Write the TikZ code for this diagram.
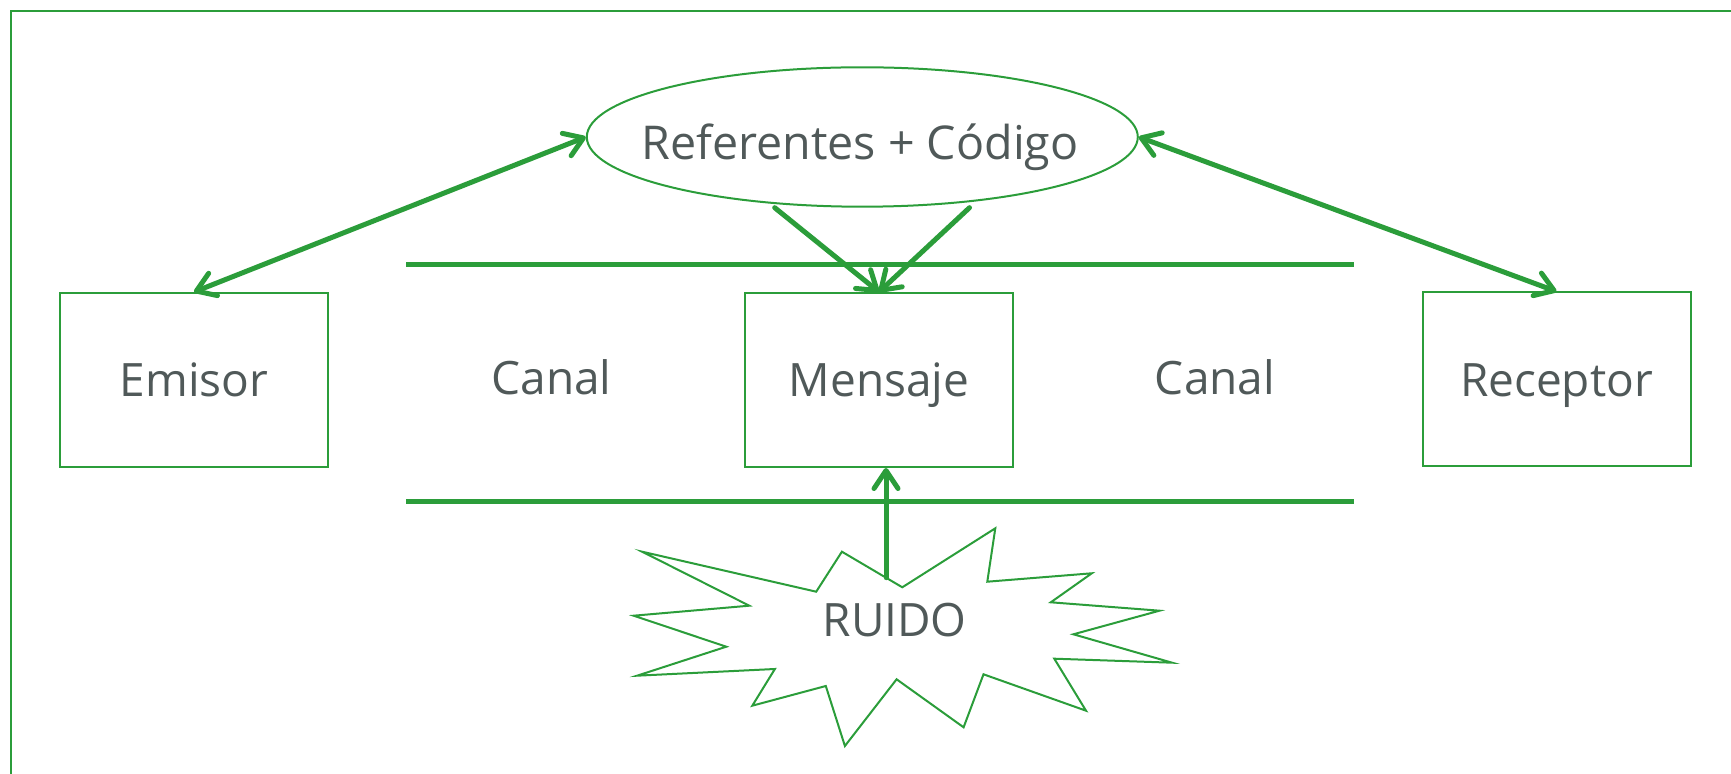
\documentclass[tikz,border=0pt]{standalone}
\usepackage{fontspec}
\setmainfont{Open Sans}
\usetikzlibrary{arrows.meta,shapes.geometric,calc}
\definecolor{gr}{RGB}{43,157,58}
\definecolor{tx}{RGB}{80,89,89}
\begin{document}
\begin{tikzpicture}[x=0.5pt,y=-0.5pt,
  thinline/.style={draw=gr, line width=1pt},
  lbl/.style={font=\fontsize{23}{27}\selectfont, text=tx},
  box/.style={thinline, lbl, minimum width=134pt, minimum height=87pt, inner sep=0pt, text height=16.7pt, text depth=0pt},
  chan/.style={draw=gr, line width=2.4pt},
  conn/.style={draw=gr, line width=2.5pt, line cap=round},
  tip/.tip={Straight Barb[length=9pt,width=12pt,round]}
]
\useasboundingbox (0,0) rectangle (1731,774);
% frame
\draw[thinline] (11,774) -- (11,11) -- (1731,11);
% channel lines
\draw[chan] (406,264.5) -- (1354,264.5);
\draw[chan] (406,501.5) -- (1354,501.5);
% nodes
\node[thinline, ellipse, minimum width=275.5pt, minimum height=69.7pt, inner sep=0pt] (ell) at (862.3,137) {};
\node[lbl, font=\fontsize{23.3}{27}\selectfont, anchor=base] (elltxt) at (860,160) {Referentes + Código};
\node[box] (emi) at (194,380) {Emisor};
\node[box] (msg) at (879,380) {Mensaje};
\node[box] (rec) at (1556.5,379.5) {Receptor};
\node[lbl, anchor=base] (can1) at (551.5,395) {Canal};
\node[lbl, anchor=base] (can2) at (1215,395) {Canal};
% starburst
\draw[thinline, line join=miter] (642.1,551.7) -- (816.2,591.7) -- (841.9,551.7) -- (902.3,587.3) -- (995.3,528.3) -- (987.3,581.7) -- (1091.8,573.3) -- (1050.8,602.3) -- (1159.5,610.7) -- (1073.4,634.3) -- (1172.1,662.7) -- (1054.3,658.7) -- (1086,710.7) -- (983.5,674.3) -- (963.6,727.3) -- (896.6,679.3) -- (844.9,746) -- (825.8,686) -- (752.3,705.7) -- (774.9,669) -- (637.1,675.7) -- (726.3,646.7) -- (633.7,615.7) -- (749.3,605.7) -- cycle;
\node[lbl, anchor=base] (ruido) at (894.7,636.7) {RUIDO};
\coordinate (rt) at (886,577.7);
\coordinate (e1) at ([xshift=-43.8pt]ell.south);
\coordinate (e2) at ([xshift=53.6pt]ell.south);
% connectors
\draw[conn, tip-tip] (emi.north) -- (ell.west);
\draw[conn, tip-tip] (rec.north) -- (ell.east);
\draw[conn, -tip] (e1) -- (msg.north);
\draw[conn, -tip] (e2) -- (msg.north);
\draw[conn, -tip] (rt) -- (rt |- msg.south);
\end{tikzpicture}
\end{document}
